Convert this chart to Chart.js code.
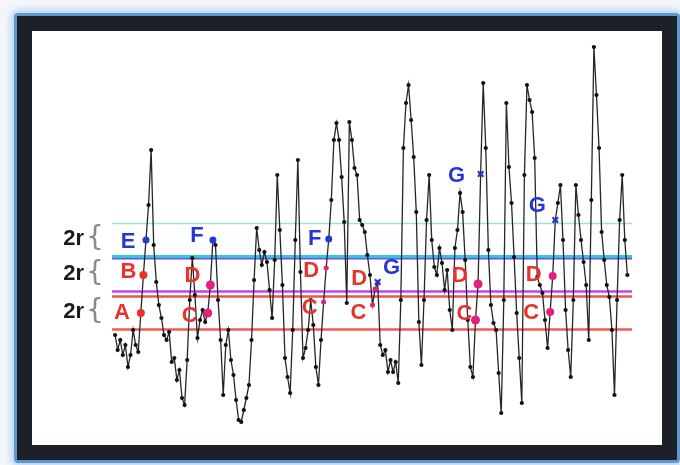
<!DOCTYPE html>
<html>
<head>
<meta charset="utf-8">
<script src="https://cdn.jsdelivr.net/npm/chart.js@4/dist/chart.umd.min.js"></script>
<style>
  html, body { margin: 0; padding: 0; width: 680px; height: 465px; overflow: hidden; background: #f3f7fb; }
  #frame {
    position: absolute; left: 14px; top: 13px; width: 666px; height: 450px;
    box-sizing: border-box; border: 3px solid #5a98d2; border-radius: 4px;
    box-shadow: 0 0 7px 3px rgba(110, 165, 220, 0.45);
  }
  #inner {
    position: absolute; left: 0; top: 0; right: 0; bottom: 0;
    border: 15px solid #1d2029; background: #ffffff;
  }
  #chart { position: absolute; left: 0; top: 0; z-index: 2; }
</style>
</head>
<body>
<div id="frame"><div id="inner"></div></div>
<canvas id="chart" width="680" height="465"></canvas>
<script>
// Recorded signal, one value per sample
const series = [
  105, 90, 100, 85, 95, 73, 85, 110, 95, 88,
  127, 165, 200, 235, 290, 195, 158, 135, 122, 105,
  100, 108, 78, 82, 60, 70, 42, 35, 80, 140,
  182, 145, 102, 120, 130, 118, 127, 155, 200, 195,
  140, 100, 45, 95, 110, 80, 65, 40, 20, 18,
  30, 42, 55, 100, 160, 212, 190, 175, 188, 178,
  150, 122, 180, 265, 210, 155, 82, 63, 47, 110,
  200, 280, 168, 82, 92, 110, 140, 115, 73, 55,
  100, 138, 172, 201, 240, 300, 317, 300, 263, 218,
  137, 318, 300, 272, 265, 220, 215, 208, 185, 165,
  135, 151, 158, 95, 85, 90, 68, 80, 68, 78,
  57, 140, 292, 337, 355, 320, 283, 228, 118, 75,
  140, 220, 265, 200, 173, 165, 192, 177, 150, 170,
  130, 110, 192, 210, 247, 228, 180, 120, 73, 63,
  120, 156, 266, 357, 292, 190, 135, 117, 110, 67,
  27, 140, 337, 273, 237, 183, 127, 82, 37, 265,
  355, 340, 328, 282, 163, 155, 147, 120, 92, 128,
  164, 220, 237, 255, 200, 130, 90, 63, 140, 255,
  225, 200, 178, 155, 100, 240, 393, 345, 292, 208,
  180, 155, 143, 110, 45, 140, 220, 265, 200, 165
];

// Tolerance r (each band is 2r wide)
const r = 16.5;

// Template samples A, B, E
const templateIdx = [10, 11, 12];

// Samples matching A (C), B (D), E (F), and third samples that fail (G)
const cIdx = [36, 81, 100, 140, 169];
const dIdx = [37, 82, 101, 141, 170];
const fIdx = [38, 83];
const gIdx = [102, 142, 171];

const RED = '#e8322c';
const BLUE = '#2438d0';
const PINK = '#e3207e';

const pts = idx => idx.map(i => ({ x: i, y: series[i] }));
const xMin = -1.2, xMax = series.length + 0.8;
const level = v => [{ x: xMin, y: v }, { x: xMax, y: v }];

const [vA, vB, vE] = templateIdx.map(i => series[i]);

// Band edges: value, colour, width
const bandLines = [
  [vE + r, '#a6dde0', 1.6],
  [vE - r, '#36c6d6', 3],
  [vB + r, '#6a4cf0', 2],
  [vB - r, '#b448f0', 2.5],
  [vA + r, '#f05252', 2.5],
  [vA - r, '#f25a5a', 2.5]
];

const datasets = [];
bandLines.forEach(([v, col, w]) => datasets.push({
  data: level(v), borderColor: col, borderWidth: w, pointRadius: 0, order: 10
}));
datasets.push({
  data: series.map((v, i) => ({ x: i, y: v })),
  borderColor: '#262626', borderWidth: 1.3, tension: 0,
  pointRadius: 2.1, pointBackgroundColor: '#111', pointBorderWidth: 0, order: 5
});
datasets.push({
  data: pts(templateIdx.slice(0, 2)), showLine: false,
  pointRadius: 4, pointBackgroundColor: RED, pointBorderWidth: 0, order: 1
});
datasets.push({
  data: pts([templateIdx[2]]), showLine: false,
  pointRadius: 3.5, pointBackgroundColor: BLUE, pointBorderWidth: 0, order: 1
});
datasets.push({
  data: pts(cIdx.concat(dIdx)), showLine: false,
  pointRadius: [4.5, 2.5, 2.5, 4.5, 4, 4.5, 2.5, 2.5, 4.5, 4],
  pointBackgroundColor: PINK, pointBorderWidth: 0, order: 1
});
datasets.push({
  data: pts(fIdx), showLine: false,
  pointRadius: 3.5, pointBackgroundColor: BLUE, pointBorderWidth: 0, order: 1
});
datasets.push({
  data: pts(gIdx), showLine: false, pointStyle: 'crossRot',
  pointRadius: 4, pointBorderColor: BLUE, pointBorderWidth: 2, order: 1
});

// Letter tags placed beside their samples (pixel offsets from the point)
const tags = [
  ['A', 10, -19, 0, RED], ['B', 11, -15, -3, RED], ['E', 12, -18, 2, BLUE],
  ['C', 36, -18, 3, RED], ['D', 37, -18, -9, RED], ['F', 38, -16, -4, BLUE],
  ['C', 81, -14, 6, RED], ['D', 82, -15, 3, RED], ['F', 83, -14, 0, BLUE],
  ['C', 100, -14, 8, RED], ['D', 101, -16, -10, RED], ['G', 102, 14, -14, BLUE],
  ['C', 140, -11, -6, RED], ['D', 141, -18, -8, RED], ['G', 142, -24, 2, BLUE],
  ['C', 169, -19, 1, RED], ['D', 170, -19, -1, RED], ['G', 171, -18, -14, BLUE]
];

const annotate = {
  id: 'annotate',
  afterDatasetsDraw(chart) {
    const { ctx, scales: { x, y }, chartArea } = chart;
    ctx.save();
    ctx.textAlign = 'center';
    ctx.textBaseline = 'middle';
    ctx.font = 'bold 22px "Liberation Sans", Arial, sans-serif';
    tags.forEach(([t, i, dx, dy, col]) => {
      ctx.fillStyle = col;
      ctx.fillText(t, x.getPixelForValue(i) + dx, y.getPixelForValue(series[i]) + dy);
    });
    // "2r {" marks beside each band
    [vE, vB, vA].forEach(v => {
      const py = y.getPixelForValue(v) - 1;
      ctx.fillStyle = '#1a1a1a';
      ctx.textAlign = 'right';
      ctx.font = 'bold 22px "Liberation Sans", Arial, sans-serif';
      ctx.fillText('2r', chartArea.left - 28, py);
      ctx.fillStyle = '#8a8a8a';
      ctx.textAlign = 'center';
      ctx.font = '28px "DejaVu Sans", sans-serif';
      ctx.fillText('{', chartArea.left - 17, py);
    });
    ctx.restore();
  }
};

new Chart(document.getElementById('chart'), {
  type: 'line',
  data: { datasets },
  options: {
    responsive: false,
    animation: false,
    events: [],
    layout: { padding: { left: 112, right: 48, top: 40, bottom: 25 } },
    plugins: { legend: { display: false }, tooltip: { enabled: false } },
    scales: {
      x: { type: 'linear', min: xMin, max: xMax, display: false },
      y: { min: 0, max: 400, display: false }
    }
  },
  plugins: [annotate]
});
</script>
</body>
</html>
